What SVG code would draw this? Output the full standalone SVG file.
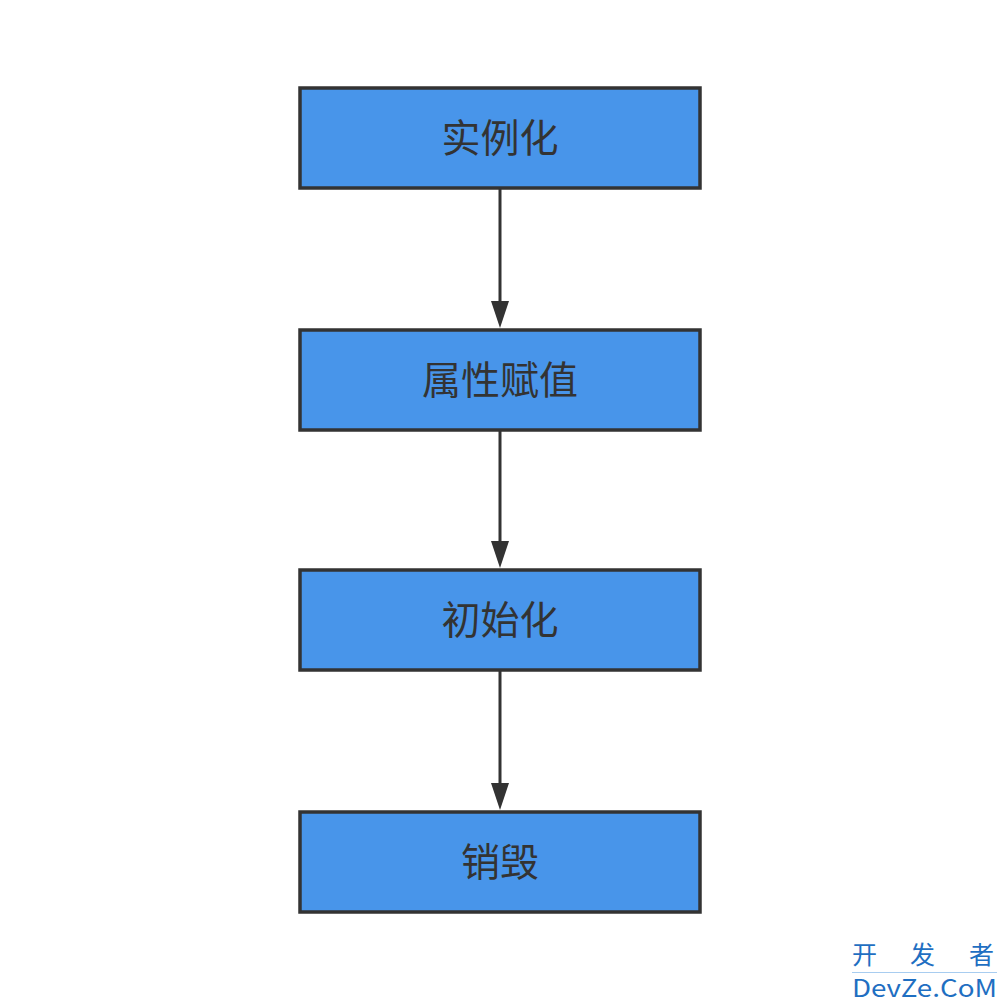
<svg xmlns="http://www.w3.org/2000/svg" width="1008" height="1008" viewBox="0 0 1008 1008">
<defs>
<style>
.box{fill:#4895ea;stroke:#333333;stroke-width:3.5}
.lbl{font-family:"Noto Sans CJK SC","Noto Sans",sans-serif;font-size:39px;fill:#333333;text-anchor:middle;dominant-baseline:central}
.conn{stroke:#333333;stroke-width:3;fill:none}
.wm{font-family:"Noto Sans CJK SC","Noto Sans",sans-serif;fill:#1f6fc2}
</style>
</defs>
<rect width="1008" height="1008" fill="#ffffff"/>
<g id="connectors">
<line class="conn" x1="500" y1="188" x2="500" y2="302"/>
<path d="M491,301 L509,301 L500,328 Z" fill="#333333"/>
<line class="conn" x1="500" y1="430" x2="500" y2="542"/>
<path d="M491,541 L509,541 L500,568 Z" fill="#333333"/>
<line class="conn" x1="500" y1="670" x2="500" y2="784"/>
<path d="M491,783 L509,783 L500,810 Z" fill="#333333"/>
</g>
<g id="n1"><rect class="box" x="300" y="88" width="400" height="100"/><text class="lbl" x="500" y="135">实例化</text></g>
<g id="n2"><rect class="box" x="300" y="330" width="400" height="100"/><text class="lbl" x="500" y="377">属性赋值</text></g>
<g id="n3"><rect class="box" x="300" y="570" width="400" height="100"/><text class="lbl" x="500" y="617">初始化</text></g>
<g id="n4"><rect class="box" x="300" y="812" width="400" height="100"/><text class="lbl" x="500" y="859">销毁</text></g>
<g id="watermark">
<text class="wm" y="964" font-size="25"><tspan x="852">开</tspan><tspan x="910">发</tspan><tspan x="969">者</tspan></text>
<line x1="852" y1="972.5" x2="997" y2="972.5" stroke="#a8cdf0" stroke-width="1"/>
<text class="wm" x="852" y="997" font-size="24" textLength="145" lengthAdjust="spacingAndGlyphs">DevZe.CoM</text>
</g>
</svg>
